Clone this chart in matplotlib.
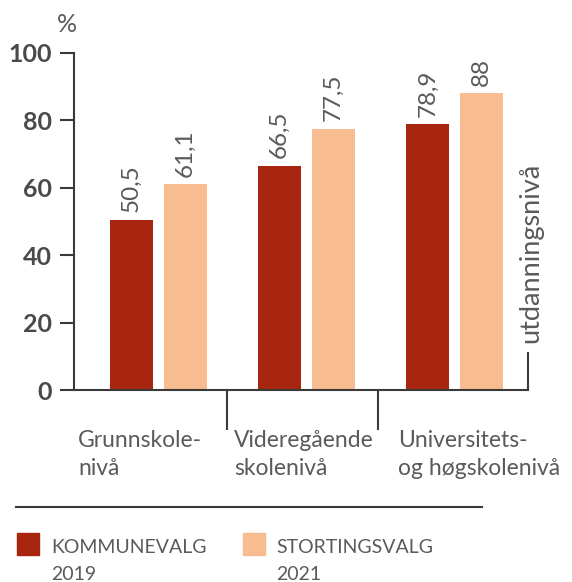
import matplotlib
matplotlib.use("Agg")
import matplotlib.pyplot as plt
import numpy as np

categories = ["Grunnskole-\nnivå", "Videregående\nskolenivå", "Universitets-\nog høgskolenivå"]
kommunevalg_2019 = [50.5, 66.5, 78.9]
stortingsvalg_2021 = [61.1, 77.5, 88.0]
value_labels_2019 = ["50,5", "66,5", "78,9"]
value_labels_2021 = ["61,1", "77,5", "88"]
yticks = [0, 20, 40, 60, 80, 100]
series_names = ["KOMMUNEVALG\n2019", "STORTINGSVALG\n2021"]

DARK = "#a82510"
PEACH = "#f8bc91"
TXT = "#5a5a5a"
LINE = "#3a3a3a"
plt.rcParams['font.family'] = ['Lato', 'DejaVu Sans']

W, H = 572, 582
fig = plt.figure(figsize=(W / 100, H / 100), dpi=100)

def fx(px):
    return px / W

def fy(py):
    return 1 - py / H

ax = fig.add_axes([fx(74), fy(390), fx(528) - fx(74), fy(53) - fy(390)])
x = np.arange(len(categories))
bw = 0.288
off = 0.182
ax.bar(x - off, kommunevalg_2019, width=bw, color=DARK, zorder=2)
ax.bar(x + off, stortingsvalg_2021, width=bw, color=PEACH, zorder=2)

for xi, v, lab in zip(x - off, kommunevalg_2019, value_labels_2019):
    ax.text(xi, v + 2.2, lab, rotation=90, ha="center", va="bottom", fontsize=17.5, color=TXT)
for xi, v, lab in zip(x + off, stortingsvalg_2021, value_labels_2021):
    ax.text(xi, v + 2.2, lab, rotation=90, ha="center", va="bottom", fontsize=17.5, color=TXT)

ax.set_xlim(-0.569, 2.495)
ax.set_ylim(0, 100)
ax.set_yticks(yticks)
ax.set_yticklabels([str(t) for t in yticks], fontsize=18, fontweight="bold", color="#4a4a4a")
ax.tick_params(axis="y", length=10, width=1.5, color=LINE, pad=6)
ax.set_xticks([])
for s in ["top", "right"]:
    ax.spines[s].set_visible(False)
for s in ["left", "bottom"]:
    ax.spines[s].set_color(LINE)
    ax.spines[s].set_linewidth(1.5)

# right end tick and separators
ax.plot([2.495, 2.495], [0, 11.3], color=LINE, lw=1.5, clip_on=False, solid_capstyle="butt")
for sx in [0.464, 1.482]:
    ax.plot([sx, sx], [0, -12], color=LINE, lw=1.5, clip_on=False, solid_capstyle="butt")

# right rotated label
fig.text(fx(531), fy(343), "utdanningsnivå", rotation=90, ha="center", va="bottom", fontsize=19.5, color=TXT)

# percent sign
fig.text(fx(67), fy(24), "%", ha="center", va="center", fontsize=18, color=TXT)

# category labels (two lines each)
for px, lab in zip([78, 234, 398], categories):
    for line, by in zip(lab.split("\n"), [447, 475]):
        fig.text(fx(px), fy(by), line, ha="left", va="baseline", fontsize=16.5, color=TXT)

# separator line
fig.add_artist(plt.Line2D([fx(16), fx(482)], [fy(507), fy(507)], color=LINE, lw=1.5))

# legend
for (sq_x, tx_x), col, name in zip([(17, 51), (243, 276)], [DARK, PEACH], series_names):
    fig.add_artist(plt.Rectangle((fx(sq_x), fy(555)), fx(22), 22 / H, color=col, transform=fig.transFigure))
    for line, by in zip(name.split("\n"), [553, 580]):
        fig.text(fx(tx_x), fy(by), line, ha="left", va="baseline", fontsize=14, color=TXT)

fig.savefig("out.png", dpi=100)
